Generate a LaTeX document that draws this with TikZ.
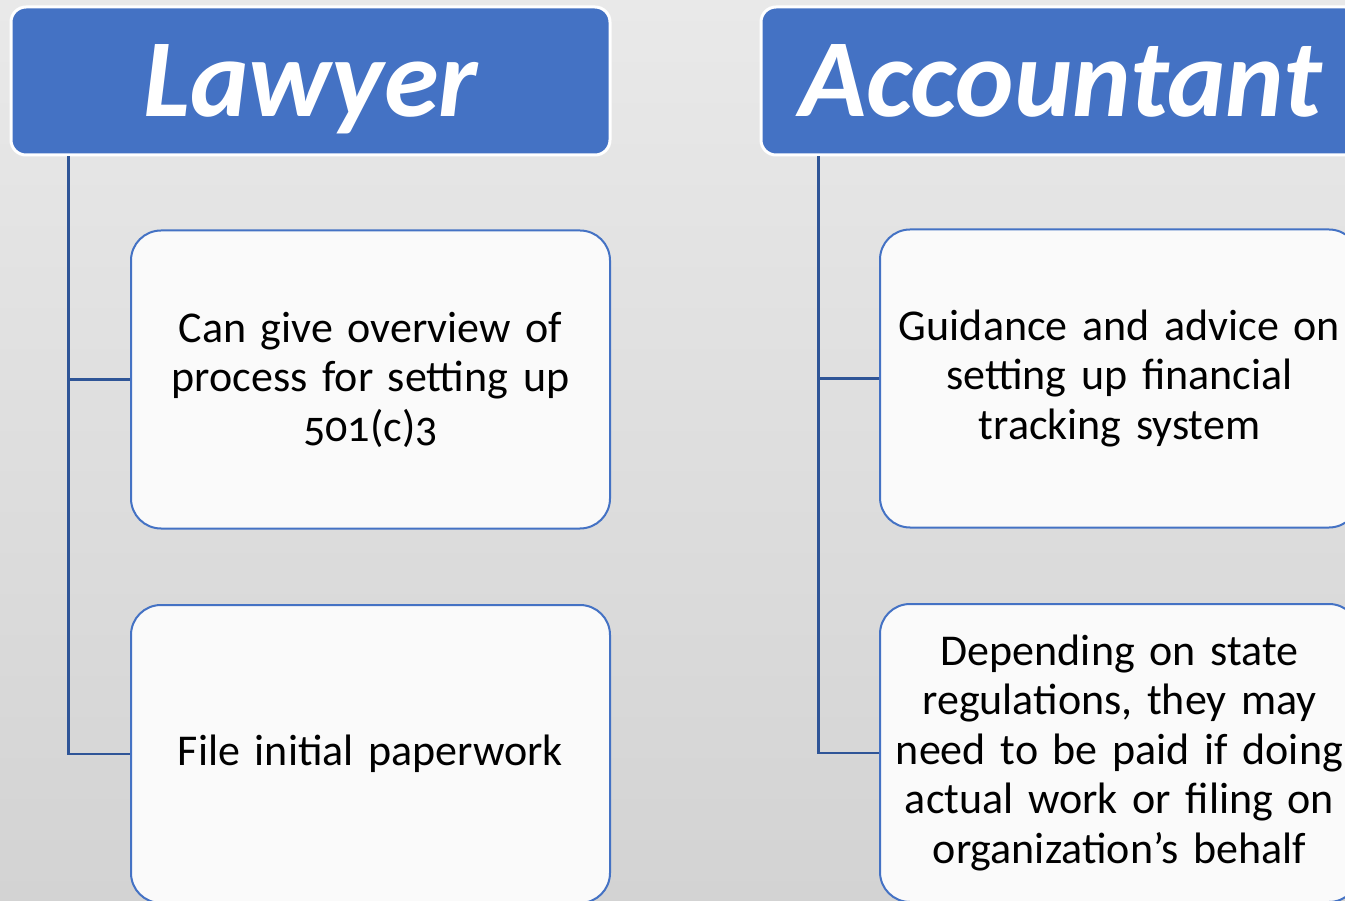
\documentclass[tikz,border=0pt]{standalone}
\usepackage{fontspec}
\setmainfont{Carlito}[Numbers=OldStyle, WordSpace=0.75]
\usetikzlibrary{positioning}
\definecolor{hdrblue}{HTML}{4472C4}
\definecolor{linkblue}{HTML}{2F5597}
\definecolor{boxfill}{HTML}{FAFAFA}
\definecolor{bgtop}{HTML}{E9E9E9}
\definecolor{bgbot}{HTML}{D3D3D3}
\tikzset{
  hdr/.style={rectangle, rounded corners=15pt, fill=hdrblue, draw=white, line width=3pt,
    minimum width=599pt, minimum height=148pt, inner sep=0pt, text=white,
    font=\fontsize{111}{112}\selectfont\bfseries\itshape, text height=71pt, text depth=0pt},
  child/.style={rectangle, rounded corners=30pt, fill=boxfill, draw=hdrblue, line width=2pt,
    minimum width=479pt, minimum height=298pt, inner sep=0pt, align=center, text width=470pt,
    font=\fontsize{44}{49.5}\selectfont},
  link/.style={draw=linkblue, line width=2.5pt}
}
\begin{document}
\begin{tikzpicture}[x=1pt,y=-1pt]
\useasboundingbox (0,0) rectangle (1345,901);
\clip (0,0) rectangle (1345,901);
\shade[top color=bgtop, bottom color=bgbot] (0,0) rectangle (1345,901);
% lawyer
\node[hdr] (lh) at (310.5,81) {Lawyer};
\node[child] (l1) at (370.5,379.5) {Can give overview of\\process for setting up\\501(c)3};
\node[child] (l2) at (370.5,754) {File initial paperwork};
\draw[link] ([xshift=59pt]lh.south west) |- (l1.west);
\draw[link] ([xshift=59pt]lh.south west) |- (l2.west);
% accountant
\node[hdr] (ah) at (1060.5,81) {Accountant};
\node[child] (a1) at (1119.5,378.5) {Guidance and advice on\\setting up financial\\tracking system};
\node[child] (a2) at (1119.5,753) {Depending on state\\regulations, they may\\need to be paid if doing\\actual work or filing on\\organization’s behalf};
\draw[link] ([xshift=59pt]ah.south west) |- (a1.west);
\draw[link] ([xshift=59pt]ah.south west) |- (a2.west);
\end{tikzpicture}
\end{document}
